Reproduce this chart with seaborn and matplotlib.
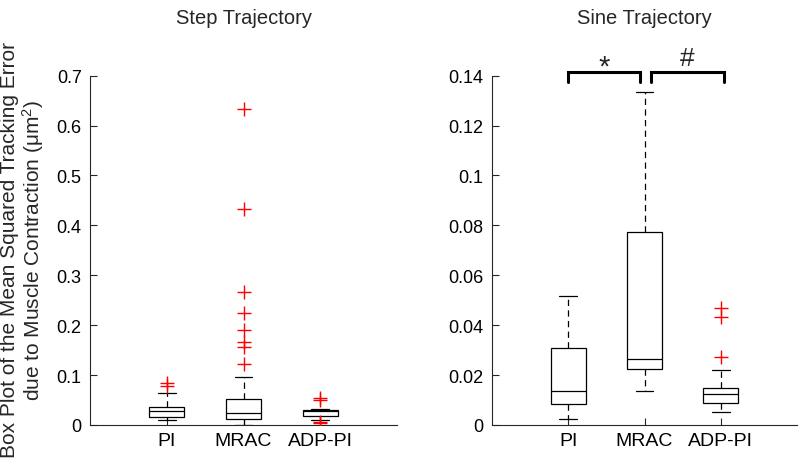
import numpy as np
import pandas as pd
import matplotlib
matplotlib.use("Agg")
import matplotlib.pyplot as plt
import seaborn as sns

# ---------------- data ----------------
categories = ["PI", "MRAC", "ADP-PI"]

# five-number summaries: [whisker low, Q1, median, Q3, whisker high]
step_pi = [0.010, 0.0154, 0.0287, 0.0367, 0.0636]
step_mrac = [0.0006, 0.0120, 0.0235, 0.0515, 0.0957]
step_adp = [0.011, 0.0187, 0.0275, 0.0307, 0.033]
step_out_pi = [0.0842, 0.0776]
step_out_mrac = [0.633, 0.4326, 0.2674, 0.224, 0.1905, 0.1658, 0.1558, 0.1223]
step_out_adp = [0.055, 0.051, 0.007, 0.004]

sine_pi = [0.0025, 0.0084, 0.0135, 0.0307, 0.0518]
sine_mrac = [0.0135, 0.0224, 0.0264, 0.0775, 0.1335]
sine_adp = [0.0051, 0.0089, 0.0123, 0.0150, 0.0222]
sine_out_pi = []
sine_out_mrac = []
sine_out_adp = [0.0470, 0.0431, 0.0274]

step_yticks = [0, 0.1, 0.2, 0.3, 0.4, 0.5, 0.6, 0.7]
step_yticklabels = ["0", "0.1", "0.2", "0.3", "0.4", "0.5", "0.6", "0.7"]
sine_yticks = [0, 0.02, 0.04, 0.06, 0.08, 0.1, 0.12, 0.14]
sine_yticklabels = ["0", "0.02", "0.04", "0.06", "0.08", "0.1", "0.12", "0.14"]

titles = ["Step Trajectory", "Sine Trajectory"]
ylabel = "Box Plot of the Mean Squared Tracking Error\ndue to Muscle Contraction (μm$^2$)"

sig_pairs = [("PI", "MRAC", "*"), ("MRAC", "ADP-PI", "#")]
sig_level = 0.1415
# ---------------------------------------

sns.set_style("ticks")
plt.rcParams["font.family"] = ["Liberation Sans", "DejaVu Sans"]
plt.rcParams["mathtext.default"] = "regular"


def long_frame(stats_list):
    rows = []
    for cat, vals in zip(categories, stats_list):
        for v in vals:
            rows.append({"group": cat, "value": v})
    return pd.DataFrame(rows)


fig = plt.figure(figsize=(8, 4.64), dpi=100)
ax1 = fig.add_axes([0.1125, 0.0819, 0.38375, 0.753])
ax2 = fig.add_axes([0.615, 0.0819, 0.38125, 0.753])

panels = [
    (ax1, [step_pi, step_mrac, step_adp], [step_out_pi, step_out_mrac, step_out_adp],
     (0, 0.7), step_yticks, step_yticklabels),
    (ax2, [sine_pi, sine_mrac, sine_adp], [sine_out_pi, sine_out_mrac, sine_out_adp],
     (0, 0.14), sine_yticks, sine_yticklabels),
]

for i, (ax, stats, outs, ylim, yt, ytl) in enumerate(panels):
    df = long_frame(stats)
    sns.boxplot(data=df, x="group", y="value", order=categories, whis=(0, 100),
                width=0.46, color="white", linecolor="black", linewidth=0.9,
                fliersize=0, ax=ax,
                whiskerprops=dict(linestyle=(0, (5, 3.5))),
                capprops=dict(linestyle="-"),
                medianprops=dict(color="black"))
    odf = long_frame(outs)
    if len(odf):
        sns.stripplot(data=odf, x="group", y="value", order=categories, jitter=False,
                      marker="+", color="red", size=10, linewidth=1.0, ax=ax)
    ax.set_xlim(-1, 3)
    ax.set_ylim(*ylim)
    ax.set_yticks(yt)
    ax.set_yticklabels(ytl)
    ax.set_xticks(range(len(categories)))
    ax.set_xticklabels(categories)
    ax.set_xlabel("")
    ax.set_ylabel("")
    for s in ["top", "right"]:
        ax.spines[s].set_visible(False)
    for s in ["left", "bottom"]:
        ax.spines[s].set_color("#262626")
        ax.spines[s].set_linewidth(0.8)
    ax.tick_params(axis="y", direction="in", length=5, labelsize=13, colors="#262626",
                   labelcolor="black", pad=6)
    ax.tick_params(axis="x", direction="in", length=5, labelsize=14, colors="#262626",
                   labelcolor="black", pad=5)
    ax.set_title(titles[i], fontsize=14.5, pad=38)

fig.text(23 / 800, 1 - 250 / 464, ylabel, rotation=90, ha="center", va="center",
         fontsize=15, linespacing=1.02, multialignment="center")

# significance brackets on the sine panel
sym_style = {"*": (21, -0.0036), "#": (19, 0.0006)}
for a, b, sym in sig_pairs:
    xa = categories.index(a)
    xb = categories.index(b)
    x0 = xa + (0.0 if xa == 0 else 0.09)
    x1 = xb - (0.06 if xb == 1 else -0.04)
    ax2.plot([x0, x0, x1, x1], [sig_level - 0.0042, sig_level, sig_level, sig_level - 0.0042],
             color="black", lw=2.2, clip_on=False, solid_joinstyle="miter")
    fs, dy = sym_style[sym]
    ax2.text((x0 + x1) / 2, sig_level + dy, sym, ha="center", va="bottom",
             fontsize=fs, clip_on=False)

fig.savefig("out.png", dpi=100)
